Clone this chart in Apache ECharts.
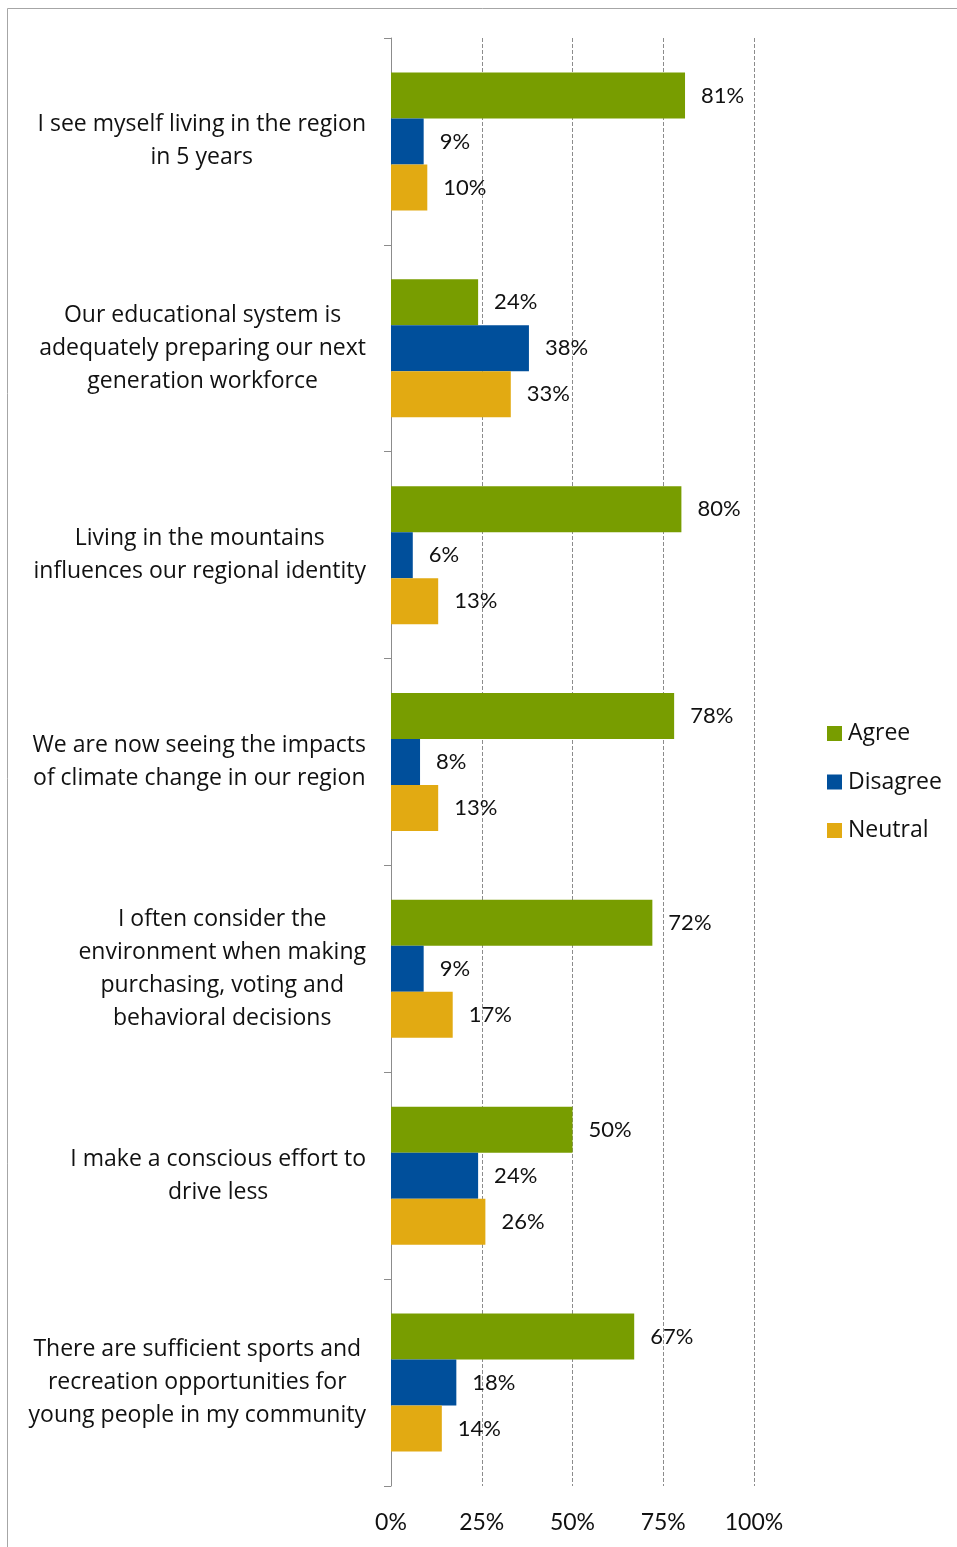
<!DOCTYPE html>
<html>
<head>
<meta charset="utf-8">
<script src="https://cdn.jsdelivr.net/npm/echarts@6/dist/echarts.min.js"></script>
<style>
  html, body { margin: 0; padding: 0; background: #fff; }
  #main { width: 957px; height: 1547px; }
</style>
</head>
<body>
<div id="main"></div>
<script>
// statements (top to bottom)
var categories = [
  "I see myself living in the region\nin 5 years",
  "Our educational system is\nadequately preparing our next\ngeneration workforce",
  "Living in the mountains\ninfluences our regional identity",
  "We are now seeing the impacts\nof climate change in our region",
  "I often consider the\nenvironment when making\npurchasing, voting and\nbehavioral decisions",
  "I make a conscious effort to\ndrive less",
  "There are sufficient sports and\nrecreation opportunities for\nyoung people in my community"
];
var agree    = [81, 24, 80, 78, 72, 50, 67];
var disagree = [9, 38, 6, 8, 9, 24, 18];
var neutral  = [10, 33, 13, 13, 17, 26, 14];
var xTicks = [0, 25, 50, 75, 100];

var font = "Lato, 'Open Sans', sans-serif";
var textFont = "'Open Sans', Lato, sans-serif";

var chart = echarts.init(document.getElementById("main"));

function barSeries(name, data, color) {
  return {
    name: name,
    type: "bar",
    data: data,
    barWidth: 46,
    barGap: "0%",
    itemStyle: { color: color },
    label: {
      show: true,
      position: "right",
      distance: 16,
      formatter: "{c}%",
      color: "#111",
      fontSize: 22,
      fontFamily: font
    },
    animation: false
  };
}

chart.setOption({
  animation: false,
  textStyle: { fontFamily: font },
  graphic: [{
    type: "rect",
    shape: { x: 7.5, y: 8.5, width: 980, height: 1600 },
    style: { fill: "none", stroke: "#a6a6a6", lineWidth: 1 },
    silent: true
  }],
  grid: { left: 391, right: 203, top: 38, bottom: 61, containLabel: false },
  legend: {
    orient: "vertical",
    left: 822,
    top: 717,
    itemWidth: 15,
    itemHeight: 15,
    itemGap: 25.5,
    icon: "rect",
    textStyle: { fontSize: 23, color: "#111", fontFamily: textFont, padding: [0, 0, 0, 1] },
    data: ["Agree", "Disagree", "Neutral"]
  },
  xAxis: {
    type: "value",
    min: xTicks[0],
    max: xTicks[xTicks.length - 1],
    interval: 25,
    axisLine: { show: false },
    axisTick: { show: false },
    axisLabel: {
      formatter: "{value}%",
      fontSize: 23,
      color: "#111",
      margin: 25,
      fontFamily: font,
      showMinLabel: true
    },
    splitLine: {
      show: true,
      lineStyle: { color: "#8c8c8c", type: [4, 2], width: 1 }
    }
  },
  yAxis: {
    type: "category",
    inverse: true,
    data: categories,
    axisLine: { show: true, lineStyle: { color: "#8c8c8c", width: 1 } },
    axisTick: { show: true, length: 7, lineStyle: { color: "#8c8c8c" } },
    axisLabel: {
      margin: 25,
      formatter: function (v) { return "{c|" + v.split("\n").join("}\n{c|") + "}"; },
      rich: {
        c: { fontSize: 23, lineHeight: 33, color: "#111", align: "center", fontFamily: textFont }
      }
    }
  },
  series: [
    barSeries("Agree", agree, "#789d00"),
    barSeries("Disagree", disagree, "#004f9b"),
    barSeries("Neutral", neutral, "#e2aa12")
  ]
});
</script>
</body>
</html>
